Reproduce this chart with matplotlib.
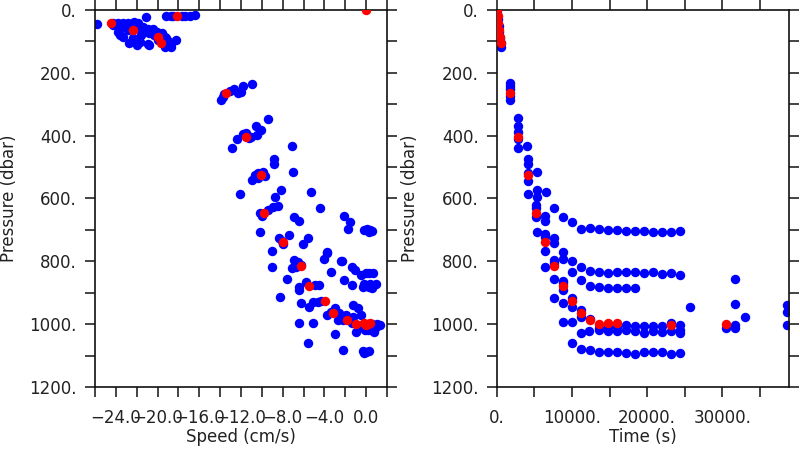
import matplotlib
matplotlib.use("Agg")
import matplotlib.pyplot as plt
from matplotlib.ticker import MultipleLocator, FuncFormatter, FixedLocator

# ---------------- data ----------------
# Left panel (speed vs pressure), blue points
left_speed = [
    -25.8, -24.3, -23.8, -23.3, -22.8, -22.3, -21.9, -21.1, -23.6, -23.3,
    -22.8, -22.3, -21.7, -21.4, -20.9, -20.4, -20.1, -20.8, -20.3, -19.6,
    -19.3, -19.2, -19.5, -18.7, -20.8, -21.7, -22.4, -23.3, -23.6, -23.8,
    -24.3, -22.8, -21.6, -18.2, -19.2, -18.7, -18.5, -17.7, -17.4, -16.9,
    -16.4, -19.0, -20.0, -22.7, -22.0, -20.9, -19.3, -18.7,
    -13.9, -13.7, -13.6, -13.1, -12.7, -12.3, -12.0, -11.8, -10.9,
    -12.9, -12.4, -11.8, -11.5, -11.0, -10.5, -10.1, -10.6, -9.4, -11.2,
    -10.9, -10.7, -10.4, -9.9, -9.7, -10.4, -8.85, -8.85, -7.1, -7.0,
    -12.1, -8.7, -8.2, -5.3,
    -10.2, -9.4, -8.9, -8.5, -6.9, -6.4, -10.0,
    -4.4, -2.1, -1.5, -1.7, -0.2, 0.1, 0.4, 0.6, 0.3, -10.2,
    -8.4, -8.0, -7.4, -8.1, -5.6, -6.1, -9.0, -3.8, -4.0, -2.3,
    -1.4, -1.1, -0.5, 0.0, 0.3, 0.7, -9.0, -6.9, -6.55, -7.1,
    -6.7, -6.2, -3.4, -7.6, -5.75, -4.95, -4.5, -6.4, -6.4, -2.1,
    -1.4, -0.3, 0.3, 0.6, -3.75, -2.4, -0.2, 0.4, 0.9,
    -8.3, -6.2, -5.5, -5.1, -4.6, -4.3, -3.4, -3.0, -2.6, -1.9,
    -2.7, -2.2, -1.3, -0.8, -0.5, -1.3, -1.4, -0.65, -0.2, 0.5,
    0.95, 1.3, 0.8, 0.15, -0.97, -3.8, -6.4, -5.1, -3.0, -5.6,
    -2.2, -0.3, 0.0, 0.3, -0.2, 0.6, 1.0, -0.4, -0.1, 0.5,
]
left_pres = [
    46, 40, 42, 40, 40, 38, 42, 21, 58, 53,
    50, 57, 62, 55, 60, 62, 70, 74, 80, 74,
    85, 90, 101, 108, 111, 101, 90, 85, 80, 69,
    48, 64, 80, 95, 18, 18, 18, 18, 18, 18,
    16, 100, 95, 106, 111, 109, 117, 117,
    286, 276, 268, 257, 253, 263, 260, 241, 234,
    438, 412, 395, 390, 403, 398, 382, 368, 347, 408,
    541, 525, 518, 515, 528, 536, 475, 490, 433, 515,
    586, 594, 573, 578,
    647, 637, 628, 624, 658, 672, 656,
    631, 656, 676, 697, 700, 696, 699, 702, 706, 708,
    727, 745, 716, 734, 725, 745, 767, 769, 794, 799,
    817, 828, 844, 838, 838, 836, 817, 796, 801, 822,
    817, 812, 833, 857, 865, 875, 875, 881, 891, 859,
    875, 881, 883, 886, 772, 799, 873, 872, 873,
    915, 934, 946, 928, 928, 925, 960, 950, 966, 971,
    987, 987, 939, 950, 971, 976, 997, 1008, 1013, 1008,
    1008, 1003, 1024, 1019, 1024, 971, 995, 995, 1031, 1061,
    1082, 1086, 1090, 1086, 1093, 1000, 998, 1003, 1017, 1020,
]

# Right panel (time vs pressure), blue points
right_time = [
    0, 60, 150, 250, 350, 450, 550, 620,
    1730, 1730, 1730, 1730, 1730,
    2880, 2880, 2880, 2880, 2880, 4070,
    4120, 4120, 4120, 4120, 4120,
    5320, 5320, 5320, 6520,
    5230, 5230, 5230, 5400,
    6470, 6470, 6470, 6470, 6470, 6470,
    7660, 7660, 7660, 7660, 7660, 7660, 7660,
    8860, 8860, 8860, 8860, 8860, 8860, 8860, 8860,
    10060, 10060, 10060, 10060, 10060, 10060, 10060,
    11250, 11250, 11250, 11250, 11250, 11250, 11250,
    12450, 12450, 12450, 12450, 12450, 12230,
    13650, 13650, 13650, 13650, 13650, 13550,
    14840, 14840, 14840, 14840, 14840, 14840,
    16040, 16040, 16040, 16040, 16040, 16040,
    17240, 17240, 17240, 17240, 17240, 17240,
    18430, 18430, 18430, 18430, 18430, 18430,
    19630, 19630, 19630, 19630, 19630,
    20830, 20830, 20830, 20830, 20830,
    22020, 22020, 22020, 22020, 22020,
    23220, 23220, 23220, 23220, 23220,
    24420, 24420, 24420, 24420, 24420, 24420,
    25750, 30500, 31700, 31700, 31700, 31700, 33000,
    38560, 38560, 38560,
]
right_pres = [
    0, 10, 30, 50, 70, 88, 105, 117,
    231, 242, 252, 274, 286,
    345, 368, 387, 411, 440, 432,
    474, 490, 518, 543, 586,
    515, 573, 594, 578,
    621, 631, 658, 708,
    656, 671, 714, 722, 766, 817,
    631, 725, 743, 796, 806, 857, 916,
    658, 771, 793, 863, 868, 891, 932, 993,
    676, 799, 833, 918, 946, 993, 1059,
    697, 817, 859, 955, 976, 1029, 1080,
    695, 831, 878, 985, 1082, 1021,
    696, 835, 881, 1013, 1088, 1019,
    700, 836, 884, 1008, 1021, 1090,
    701, 835, 884, 1008, 1022, 1088,
    702, 835, 884, 1003, 1019, 1093,
    702, 835, 885, 1006, 1021, 1095,
    705, 836, 1006, 1029, 1089,
    708, 834, 1006, 1021, 1090,
    708, 839, 1006, 1024, 1090,
    707, 836, 995, 1021, 1095,
    702, 843, 1004, 1017, 1027, 1093,
    946, 1011, 857, 936, 1003, 1011, 976,
    939, 960, 1003,
]

# Highlighted (red) samples: shared pressure, with speed and time
red_pres = [0, 19, 42, 64, 85, 106, 265, 404, 525, 645, 740, 814, 879, 927,
            965, 987, 998, 996, 996, 1004, 999]
red_speed = [0.0, -18.1, -24.5, -22.4, -20.0, -19.7, -13.4, -11.5, -10.1, -9.8,
             -8.0, -6.2, -5.5, -3.9, -3.2, -1.8, -1.0, -0.2, 0.4, 0.0, 0.2]
red_time = [20, 120, 230, 340, 430, 530, 1730, 2880, 4120, 5230, 6470, 7660,
            8860, 10060, 11250, 12450, 13650, 14840, 16040, 23220, 30500]

speed_ticks = [-24.0, -20.0, -16.0, -12.0, -8.0, -4.0, 0.0]
time_ticks = [0, 10000, 20000, 30000]
pres_ticks = [0, 200, 400, 600, 800, 1000, 1200]

# ---------------- style ----------------
plt.rcParams['font.family'] = ['DejaVu Sans']
TXT = '#222222'
FS = 12
MS = 6.8

fig = plt.figure(figsize=(8, 4.5), dpi=100)
ax1 = fig.add_axes([0.11875, 0.14, 0.365, 0.8378])
ax2 = fig.add_axes([0.6209, 0.14, 0.3658, 0.8378])


def style(ax):
    for s in ax.spines.values():
        s.set_linewidth(1.2)
        s.set_color('#111111')
    ax.set_ylim(1200, 0)
    ax.yaxis.set_major_locator(FixedLocator(pres_ticks))
    ax.yaxis.set_minor_locator(MultipleLocator(100))
    ax.yaxis.set_major_formatter(FuncFormatter(lambda v, p: f"{int(round(v))}."))
    ax.tick_params(which='both', direction='out', length=7, width=1.1,
                   color='#111111', top=True, right=True, labelsize=FS,
                   labelcolor=TXT)
    ax.tick_params(axis='y', which='both', pad=6)
    ax.tick_params(axis='x', which='both', pad=9)
    ax.set_ylabel('Pressure (dbar)', fontsize=FS, color=TXT)


# Left panel
ax1.plot(left_speed, left_pres, 'o', color='#0000ff', ms=MS, mew=0, zorder=2)
ax1.plot(red_speed, red_pres, 'o', color='#ff0000', ms=MS, mew=0, zorder=3)
style(ax1)
ax1.set_xlim(-26, 2)
ax1.xaxis.set_major_locator(FixedLocator(speed_ticks))
ax1.xaxis.set_minor_locator(MultipleLocator(2))
ax1.xaxis.set_major_formatter(FuncFormatter(lambda v, p: f"{v:.1f}".replace('-', '\u2212')))
ax1.set_xlabel('Speed (cm/s)', fontsize=FS, color=TXT)
ax1.xaxis.set_label_coords(0.5, -0.108)
ax1.yaxis.set_label_coords(-0.262, 0.5)

# Right panel
ax2.plot(right_time, right_pres, 'o', color='#0000ff', ms=MS, mew=0, zorder=2)
ax2.plot(red_time, red_pres, 'o', color='#ff0000', ms=MS, mew=0, zorder=3)
style(ax2)
ax2.set_xlim(0, 38900)
ax2.xaxis.set_major_locator(FixedLocator(time_ticks))
ax2.xaxis.set_minor_locator(MultipleLocator(5000))
ax2.xaxis.set_major_formatter(FuncFormatter(lambda v, p: f"{int(round(v))}."))
ax2.set_xlabel('Time (s)', fontsize=FS, color=TXT)
ax2.xaxis.set_label_coords(0.5, -0.108)
ax2.yaxis.set_label_coords(-0.264, 0.5)

fig.savefig('out.png', dpi=100)
